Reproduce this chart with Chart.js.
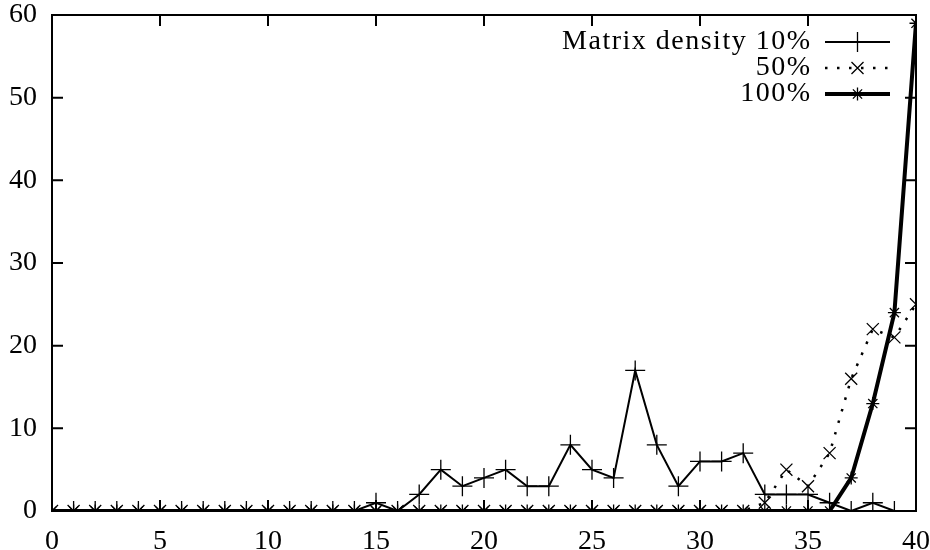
<!DOCTYPE html>
<html>
<head>
<meta charset="utf-8">
<script src="https://cdn.jsdelivr.net/npm/chart.js@4"></script>
<style>
  html, body { margin: 0; padding: 0; background: #fff; }
  canvas { display: block; }
</style>
</head>
<body>
<canvas id="chart" width="930" height="550"></canvas>
<script>
// matrix size (x axis)
const sizes = [0,1,2,3,4,5,6,7,8,9,10,11,12,13,14,15,16,17,18,19,20,
               21,22,23,24,25,26,27,28,29,30,31,32,33,34,35,36,37,38,39,40];
const density10 = [0,0,0,0,0,0,0,0,0,0,0,0,0,0,0,1,0,2,5,3,4,
                   5,3,3,8,5,4,17,8,3,6,6,7,2,2,2,1,0,1,0,0];
const density50 = [0,0,0,0,0,0,0,0,0,0,0,0,0,0,0,0,0,0,0,0,0,
                   0,0,0,0,0,0,0,0,0,0,0,0,1,5,3,7,16,22,21,25];
const density100 = [0,0,0,0,0,0,0,0,0,0,0,0,0,0,0,0,0,0,0,0,0,
                    0,0,0,0,0,0,0,0,0,0,0,0,0,0,0,0,4,13,24,59];
const legendLabels = ["Matrix density 10%", "50%", "100%"];
const xTicks = [0,5,10,15,20,25,30,35,40];
const yTicks = [0,10,20,30,40,50,60];

const FONT = "'Liberation Serif', 'DejaVu Serif', serif";

const pts = vals => sizes.map((s, i) => ({ x: s, y: vals[i] }));

// frame, mirrored inward ticks and gnuplot-style key
const framePlugin = {
  id: "frame",
  afterDraw(chart) {
    const { ctx, chartArea: a, scales } = chart;
    const tl = 11;
    ctx.save();
    ctx.strokeStyle = "#000";
    ctx.lineWidth = 2;
    ctx.strokeRect(a.left, a.top, a.right - a.left, a.bottom - a.top);
    ctx.beginPath();
    xTicks.forEach(v => {
      const px = scales.x.getPixelForValue(v);
      ctx.moveTo(px, a.bottom); ctx.lineTo(px, a.bottom - tl);
      ctx.moveTo(px, a.top);    ctx.lineTo(px, a.top + tl);
    });
    yTicks.forEach(v => {
      const py = scales.y.getPixelForValue(v);
      ctx.moveTo(a.left, py);  ctx.lineTo(a.left + tl, py);
      ctx.moveTo(a.right, py); ctx.lineTo(a.right - tl, py);
    });
    ctx.stroke();

    // key
    const textRight = 810, x0 = 825, x1 = 890;
    ctx.font = "28px " + FONT;
    ctx.letterSpacing = "1.5px";
    ctx.fillStyle = "#000";
    ctx.textAlign = "right";
    ctx.textBaseline = "alphabetic";
    chart.data.datasets.forEach((ds, i) => {
      const y = 42 + i * 26;
      ctx.fillText(legendLabels[i], textRight + 1.5, y + 7);
      ctx.save();
      ctx.lineWidth = ds.borderWidth;
      ctx.setLineDash(ds.borderDash || []);
      ctx.beginPath();
      ctx.moveTo(x0, y); ctx.lineTo(x1, y);
      ctx.stroke();
      ctx.restore();
      ctx.save();
      ctx.lineWidth = ds.pointBorderWidth;
      Chart.helpers.drawPoint(ctx, {
        pointStyle: ds.pointStyle, radius: ds.pointRadius, rotation: 0,
        borderWidth: ds.pointBorderWidth
      }, (x0 + x1) / 2, y);
      ctx.restore();
    });
    ctx.restore();
  }
};

new Chart(document.getElementById("chart"), {
  type: "line",
  data: {
    datasets: [
      {
        label: legendLabels[0],
        data: pts(density10),
        borderColor: "#000", backgroundColor: "#000",
        borderWidth: 2,
        pointStyle: "cross", pointRadius: 10, pointBorderWidth: 1.3,
        order: 2
      },
      {
        label: legendLabels[1],
        data: pts(density50),
        borderColor: "#000", backgroundColor: "#000",
        borderWidth: 2.5, borderDash: [2.5, 9.5],
        pointStyle: "crossRot", pointRadius: 8.5, pointBorderWidth: 1.3,
        order: 1
      },
      {
        label: legendLabels[2],
        data: pts(density100),
        borderColor: "#000", backgroundColor: "#000",
        borderWidth: 4,
        pointStyle: "star", pointRadius: 6.5, pointBorderWidth: 1.3,
        order: 0
      }
    ]
  },
  options: {
    responsive: false,
    animation: false,
    devicePixelRatio: 1,
    layout: { padding: { left: 0, right: 14, top: 15, bottom: 0 } },
    plugins: { legend: { display: false }, tooltip: { enabled: false } },
    elements: { line: { tension: 0 } },
    scales: {
      x: {
        type: "linear", min: 0, max: 40,
        afterBuildTicks: s => { s.ticks = xTicks.map(v => ({ value: v })); },
        afterFit: s => { s.height = 39; s.paddingLeft = 0; s.paddingRight = 0; },
        grid: { display: false },
        border: { display: false },
        ticks: { color: "#000", padding: 6, autoSkip: false, maxRotation: 0, minRotation: 0,
                 font: { family: FONT, size: 28 } }
      },
      y: {
        min: 0, max: 60,
        afterBuildTicks: s => { s.ticks = yTicks.map(v => ({ value: v })); },
        afterFit: s => { s.width = 52; s.paddingTop = 0; s.paddingBottom = 0; },
        grid: { display: false },
        border: { display: false },
        ticks: { color: "#000", padding: 7, autoSkip: false, font: { family: FONT, size: 28 } }
      }
    }
  },
  plugins: [framePlugin]
});
</script>
</body>
</html>
